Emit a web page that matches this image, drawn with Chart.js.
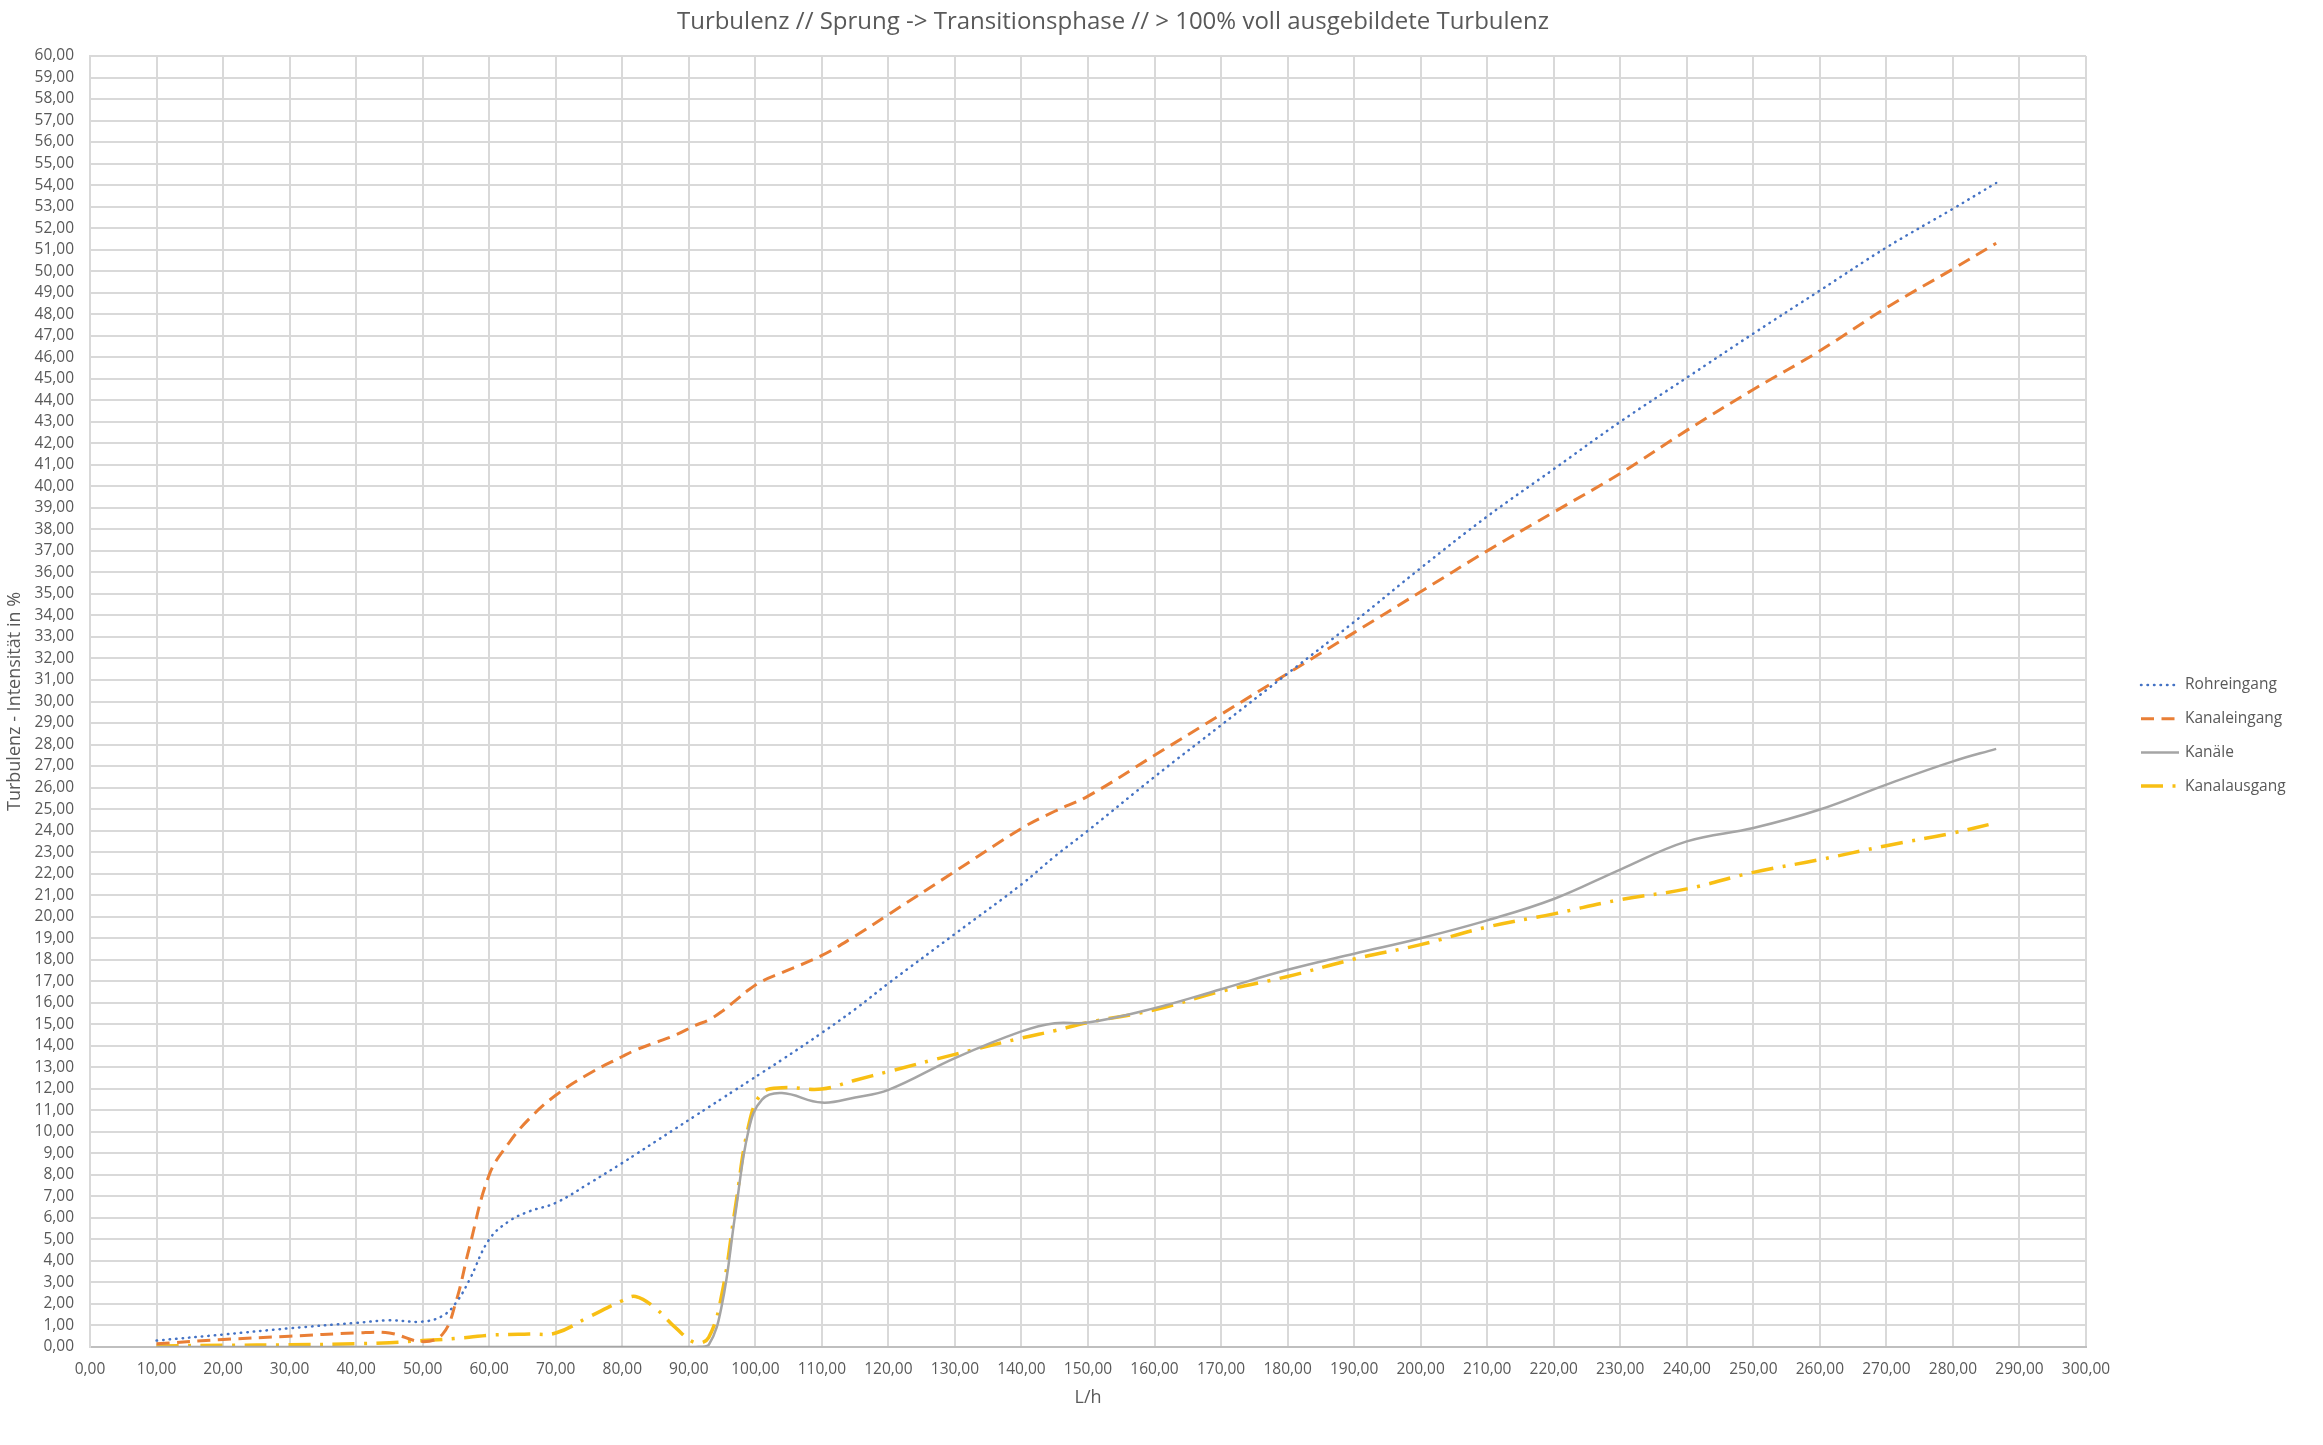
<!DOCTYPE html>
<html>
<head>
<meta charset="utf-8">
<title>Turbulenz</title>
<script src="https://cdn.jsdelivr.net/npm/chart.js@4.4.1/dist/chart.umd.min.js"></script>
<style>
  html, body { margin: 0; padding: 0; background: #fff; }
</style>
</head>
<body>
<canvas id="chart" width="2323" height="1445"></canvas>
<script>
// Data (L/h -> turbulence intensity in %)
const flowRates = [10, 20, 30, 40, 45, 50, 53, 55, 57, 60, 63, 66, 70, 75, 80, 82, 85, 88, 91, 93,
  95, 97, 99, 101, 104, 110, 115, 120, 130, 140, 145, 150, 160, 170, 180, 190, 200, 210, 220, 230,
  240, 250, 260, 270, 280, 286.5];

const rohreingang = [0.30, 0.58, 0.87, 1.12, 1.24, 1.18, 1.45, 2.05, 3.10, 5.00, 5.85, 6.30, 6.70, 7.60, 8.55, 8.95, 9.55, 10.15, 10.75, 11.15,
  11.55, 11.95, 12.35, 12.75, 13.35, 14.60, 15.70, 16.90, 19.20, 21.50, 22.80, 24.00, 26.50, 28.90, 31.30, 33.70, 36.20, 38.60, 40.80, 43.00,
  45.05, 47.10, 49.10, 51.10, 52.90, 54.10];

const kanaleingang = [0.15, 0.35, 0.50, 0.65, 0.65, 0.25, 0.60, 2.10, 4.60, 8.00, 9.50, 10.60, 11.70, 12.70, 13.50, 13.80, 14.15, 14.50, 14.95, 15.20,
  15.60, 16.10, 16.60, 17.00, 17.40, 18.20, 19.10, 20.10, 22.10, 24.10, 24.90, 25.60, 27.50, 29.40, 31.30, 33.20, 35.10, 37.00, 38.80, 40.60,
  42.60, 44.50, 46.30, 48.30, 50.10, 51.30];

const kanaele = [0, 0, 0, 0, 0, 0, 0, 0, 0, 0, 0, 0, 0, 0, 0, 0, 0, 0, 0, 0.10,
  2.00, 6.20, 10.10, 11.50, 11.80, 11.36, 11.60, 11.95, 13.43, 14.67, 15.05, 15.08, 15.75, 16.63, 17.53, 18.28, 19.00, 19.83, 20.82, 22.19,
  23.50, 24.12, 24.98, 26.14, 27.22, 27.80];

const kanalausgang = [0.05, 0.08, 0.10, 0.15, 0.20, 0.30, 0.35, 0.40, 0.45, 0.55, 0.58, 0.60, 0.65, 1.40, 2.15, 2.35, 1.80, 0.90, 0.20, 0.45,
  2.50, 6.50, 10.30, 11.80, 12.05, 11.99, 12.40, 12.80, 13.60, 14.36, 14.70, 15.08, 15.67, 16.53, 17.22, 18.03, 18.70, 19.52, 20.13, 20.79,
  21.29, 22.06, 22.65, 23.30, 23.89, 24.36];

const chartTitle = 'Turbulenz // Sprung -> Transitionsphase // > 100% voll ausgebildete Turbulenz';
const xTitle = 'L/h';
const yTitle = 'Turbulenz - Intensität in %';

const textColor = '#595959';
const fontFamily = '"Open Sans", "DejaVu Sans", sans-serif';

function points(values) {
  return values.map((v, i) => ({ x: flowRates[i], y: v }));
}

// German decimal format: 10,00
function fmt(value) {
  return value.toFixed(2).replace('.', ',');
}

// Title and legend drawn by hand so they sit where Excel put them
const decorations = {
  id: 'decorations',
  afterDraw(chart) {
    const ctx = chart.ctx;
    ctx.save();
    ctx.fillStyle = textColor;
    ctx.font = '24px ' + fontFamily;
    ctx.textAlign = 'center';
    ctx.textBaseline = 'middle';
    ctx.fillText(chartTitle, 1113, 22);

    ctx.font = '15.5px ' + fontFamily;
    ctx.textAlign = 'left';
    chart.data.datasets.forEach((ds, i) => {
      const y = 685 + i * 33.7;
      ctx.save();
      ctx.strokeStyle = ds.borderColor;
      ctx.lineWidth = ds.borderWidth;
      ctx.lineCap = ds.borderCapStyle || 'butt';
      ctx.setLineDash(ds.borderDash || []);
      ctx.beginPath();
      ctx.moveTo(2141, y);
      ctx.lineTo(2179, y);
      ctx.stroke();
      ctx.restore();
      ctx.fillText(ds.label, 2185, y);
    });
    ctx.restore();
  }
};

const lineDefaults = {
  fill: false,
  pointRadius: 0,
  pointHoverRadius: 0,
  tension: 0.4
};

new Chart(document.getElementById('chart').getContext('2d'), {
  type: 'line',
  data: {
    datasets: [
      {
        ...lineDefaults,
        label: 'Rohreingang',
        data: points(rohreingang),
        borderColor: '#4472C4',
        borderWidth: 2.5,
        borderDash: [0.5, 6],
        borderCapStyle: 'round'
      },
      {
        ...lineDefaults,
        label: 'Kanaleingang',
        data: points(kanaleingang),
        borderColor: '#E97F36',
        borderWidth: 3,
        borderDash: [13, 7.5]
      },
      {
        ...lineDefaults,
        label: 'Kanäle',
        data: points(kanaele),
        borderColor: '#A5A5A5',
        borderWidth: 2.5
      },
      {
        ...lineDefaults,
        label: 'Kanalausgang',
        data: points(kanalausgang),
        borderColor: '#F8BF14',
        borderWidth: 3.5,
        borderDash: [22, 9.5, 3, 9.5]
      }
    ]
  },
  options: {
    responsive: false,
    animation: false,
    devicePixelRatio: 1,
    layout: {
      padding: { top: 56, right: 237, bottom: 0, left: 0 }
    },
    plugins: {
      legend: { display: false },
      title: { display: false },
      tooltip: { enabled: false }
    },
    scales: {
      x: {
        type: 'linear',
        min: 0,
        max: 300,
        afterFit(scale) { scale.height = 98; },
        ticks: {
          stepSize: 10,
          padding: 13,
          maxRotation: 0,
          autoSkip: false,
          color: textColor,
          font: { family: fontFamily, size: 15.5 },
          callback: fmt
        },
        grid: { color: '#D9D9D9', lineWidth: 2, drawTicks: false },
        border: { color: '#BFBFBF', width: 2 },
        title: {
          display: true,
          text: xTitle,
          color: textColor,
          font: { family: fontFamily, size: 18 },
          padding: { top: 0, bottom: 36 }
        }
      },
      y: {
        min: 0,
        max: 60,
        afterFit(scale) { scale.width = 90; },
        ticks: {
          stepSize: 1,
          padding: 16,
          autoSkip: false,
          color: textColor,
          font: { family: fontFamily, size: 15.5 },
          callback: fmt
        },
        grid: { color: '#D9D9D9', lineWidth: 2, drawTicks: false },
        border: { color: '#D9D9D9', width: 2 },
        title: {
          display: true,
          text: yTitle,
          color: textColor,
          font: { family: fontFamily, size: 18 },
          padding: { top: 4, bottom: 0 }
        }
      }
    }
  },
  plugins: [decorations]
});
</script>
</body>
</html>
